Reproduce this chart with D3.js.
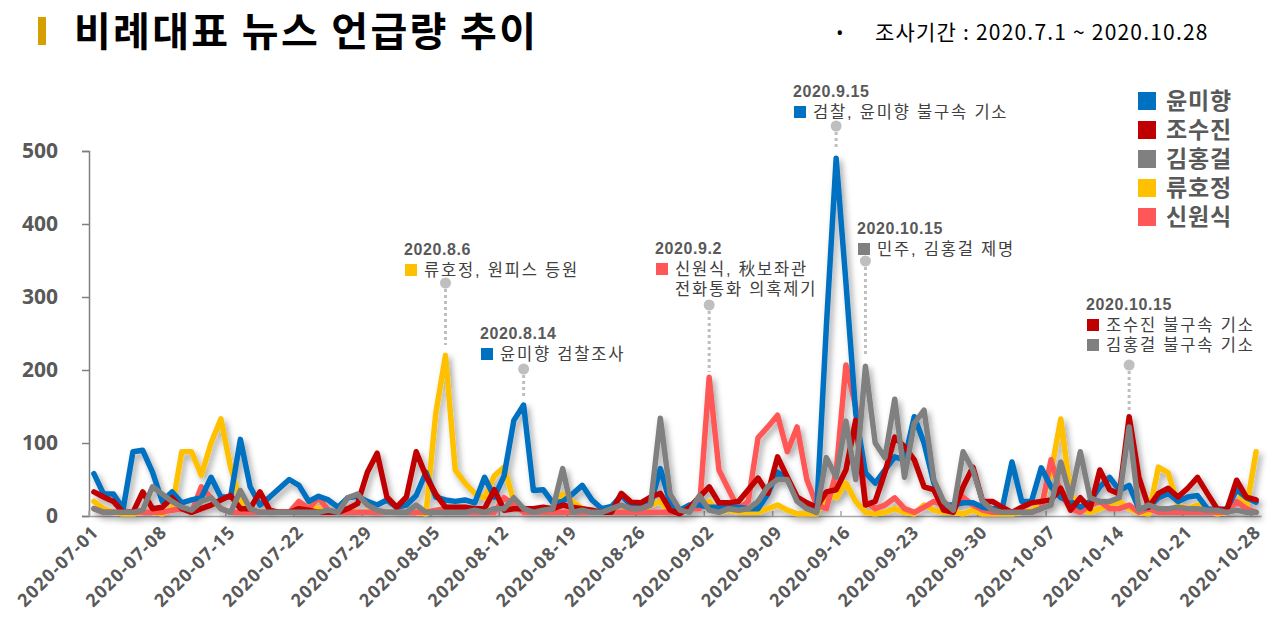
<!DOCTYPE html>
<html><head><meta charset="utf-8">
<script src="https://cdn.jsdelivr.net/npm/d3@7"></script>
<style>
body{margin:0;background:#fff;}
svg{display:block;font-family:"Open Sans","Noto Sans CJK KR",sans-serif;}
</style></head>
<body>
<svg id="chart" width="1280" height="631"></svg>
<script>
const seriesNames = ["윤미향","조수진","김홍걸","류호정","신원식"];
const seriesColors = ["#0070C0","#C00000","#808080","#FFC000","#FF5757"];
const yTicks = [0,100,200,300,400,500];

const yoon = [58,30,30,10,88,90,60,20,33,18,22,25,53,26,26,105,40,15,26,38,50,42,20,27,22,12,25,27,20,15,22,12,15,28,60,26,22,20,22,18,53,26,55,131,152,35,36,18,20,30,42,22,10,13,28,15,15,16,65,18,8,15,15,12,12,12,12,10,10,30,60,50,25,12,5,260,490,320,141,59,45,63,81,77,136,100,45,15,15,18,18,12,10,10,74,20,20,66,40,25,20,12,20,40,53,35,42,10,12,25,31,20,26,28,10,8,10,36,25,19];
const jo = [33,26,20,5,5,33,10,12,25,10,5,10,15,22,28,10,10,33,8,5,5,10,8,5,5,5,10,17,60,86,26,12,26,88,55,30,12,12,12,10,10,36,8,10,10,10,12,10,15,12,10,8,5,5,31,19,18,26,31,8,3,12,26,40,18,18,20,36,52,31,81,53,26,18,12,33,36,63,131,15,20,60,108,95,77,40,36,8,5,40,67,20,20,12,5,12,18,20,22,38,8,25,10,63,36,30,136,53,12,31,38,26,38,53,31,10,8,49,26,22];
const kim = [10,5,5,5,5,8,40,30,20,12,8,20,25,10,5,35,10,5,5,5,5,5,5,5,8,5,25,30,15,8,5,5,5,15,5,5,5,5,5,8,5,10,10,25,10,5,8,10,65,5,8,5,5,10,15,10,10,15,134,30,8,5,28,8,5,10,8,10,20,40,50,50,20,10,5,80,53,130,50,205,100,80,160,53,127,145,50,20,8,88,63,20,8,5,5,5,5,10,15,74,25,88,25,20,20,25,122,8,15,10,10,12,10,10,8,8,5,8,5,5];
const ryu = [20,10,5,3,3,5,5,3,10,88,88,56,100,133,67,20,10,5,5,5,5,10,15,10,5,5,8,5,5,5,5,5,5,5,3,140,220,63,45,31,25,55,67,20,5,5,5,10,30,20,10,5,5,5,5,10,5,15,20,5,5,15,15,20,5,8,5,5,5,10,15,8,3,3,3,30,25,45,20,5,3,5,10,5,3,15,8,5,5,3,8,3,3,3,3,5,8,15,60,133,30,10,5,10,15,20,10,5,3,67,59,15,10,15,10,3,5,40,10,88];
const shin = [10,5,5,5,5,5,5,5,8,10,5,40,25,10,5,5,5,5,5,5,5,20,10,25,8,5,5,5,5,5,5,5,5,5,5,8,10,8,5,5,5,5,25,15,5,5,5,5,5,5,5,5,5,5,5,5,5,5,5,5,5,10,10,190,63,36,10,20,107,122,138,88,122,50,15,10,60,207,150,20,10,15,25,10,5,12,20,15,8,26,15,8,5,5,5,5,5,10,77,30,10,5,15,20,10,10,15,5,10,5,5,5,5,5,5,5,5,20,10,5];

const seriesValues = [yoon, jo, kim, ryu, shin];
const fmt = d3.timeFormat("%Y-%m-%d");
const dates = d3.range(yoon.length).map(i => fmt(d3.timeDay.offset(new Date(2020,6,1), i)));
const xTickLabels = dates.filter((d,i) => i % 7 === 0);

const annotations = [
  {date:"2020.8.6", day:"2020-08-06", tx:404, ty:249, top:283, bottom:345, items:[{c:3,t:"류호정, 원피스 등원"}]},
  {date:"2020.8.14", day:"2020-08-14", tx:480, ty:333, top:369, bottom:396, items:[{c:0,t:"윤미향 검찰조사"}]},
  {date:"2020.9.2", day:"2020-09-02", tx:655, ty:248, top:305, bottom:372, items:[{c:4,t:"신원식, 秋보좌관"},{c:-1,t:"전화통화 의혹제기"}]},
  {date:"2020.9.15", day:"2020-09-15", tx:793, ty:91, top:126, bottom:150, items:[{c:0,t:"검찰, 윤미향 불구속 기소"}]},
  {date:"2020.10.15", day:"2020-09-18", tx:857, ty:228, top:261, bottom:355, items:[{c:2,t:"민주, 김홍걸 제명"}]},
  {date:"2020.10.15", day:"2020-10-15", tx:1086, ty:304, top:365, bottom:410, items:[{c:1,t:"조수진 불구속 기소"},{c:2,t:"김홍걸 불구속 기소"}]}
];

const svg = d3.select("#chart");
const defs = svg.append("defs");
const f = defs.append("filter").attr("id","shadow").attr("x","-10%").attr("y","-10%").attr("width","130%").attr("height","130%");
f.append("feDropShadow").attr("dx",3).attr("dy",4).attr("stdDeviation",3).attr("flood-color","#000").attr("flood-opacity",0.35);

const cjkTight = "'Liberation Sans','Noto Sans CJK KR',sans-serif";

// Title
svg.append("rect").attr("x",38).attr("y",17).attr("width",8).attr("height",28).attr("fill","#D4A000");
svg.append("text").attr("x",74).attr("y",46).attr("font-size",40).attr("font-weight","bold")
  .attr("letter-spacing",2.3)
  .attr("font-family","'Noto Sans CJK KR',sans-serif").attr("fill","#000").text("비례대표 뉴스 언급량 추이");
svg.append("text").attr("x",836).attr("y",40).attr("font-size",20).attr("fill","#000").text("•");
svg.append("text").attr("x",875).attr("y",40).attr("font-size",21).attr("fill","#000")
  .attr("letter-spacing",1.2)
  .attr("font-family","'Noto Sans CJK KR',sans-serif").text("조사기간 : 2020.7.1 ~ 2020.10.28");

const x = d3.scaleBand().domain(dates).range([89,1261]);
const y = d3.scaleLinear().domain([0,500]).range([516,151]);
const cx = d => x(d) + x.bandwidth()/2;

// Y axis
const yAxis = svg.append("g").attr("transform","translate(89,0)")
  .call(d3.axisLeft(y).tickValues(yTicks).tickSize(7).tickPadding(24));
yAxis.select(".domain").attr("stroke","#7f7f7f").attr("stroke-width",1.5);
yAxis.selectAll(".tick line").attr("stroke","#7f7f7f").attr("stroke-width",1.5);
yAxis.selectAll(".tick text").attr("font-size",21).attr("font-weight","bold").attr("fill","#595959")
  .attr("font-family","'Open Sans',sans-serif");

// X axis
const xAxis = svg.append("g").attr("transform","translate(0,516)")
  .call(d3.axisBottom(x).tickValues(xTickLabels).tickSize(0).tickPadding(0));
xAxis.select(".domain").attr("stroke","#a6a6a6").attr("stroke-width",1.5);
xAxis.selectAll(".tick text")
  .attr("font-size",18).attr("font-weight","bold").attr("fill","#595959")
  .attr("font-family","'Open Sans',sans-serif").attr("letter-spacing",1.2)
  .attr("text-anchor","end").attr("dy",0)
  .attr("transform","translate(6,17) rotate(-45)");
xAxis.selectAll(".tick").append("line")
  .attr("x1",-x.bandwidth()/2).attr("x2",-x.bandwidth()/2).attr("y1",0).attr("y2",-5)
  .attr("stroke","#a6a6a6").attr("stroke-width",1.5);

// Lines
const line = d3.line().x((v,i)=>cx(dates[i])).y(v=>y(v));
const drawOrder = [3,4,0,1,2];
const lg = svg.append("g").attr("filter","url(#shadow)");
drawOrder.forEach(si => {
  lg.append("path").datum(seriesValues[si]).attr("d",line)
    .attr("fill","none").attr("stroke",seriesColors[si]).attr("stroke-width",5.5)
    .attr("stroke-linejoin","round").attr("stroke-linecap","round");
});

// Legend
const leg = svg.append("g");
seriesNames.forEach((n,i) => {
  const yy = 101 + i*29;
  leg.append("rect").attr("x",1138).attr("y",yy-9).attr("width",18).attr("height",18).attr("fill",seriesColors[i]);
  leg.append("text").attr("x",1166).attr("y",yy+8).attr("font-size",23).attr("font-weight","bold")
    .attr("letter-spacing",0.8)
    .attr("font-family",cjkTight).attr("fill","#595959").text(n);
});

// Annotations
const ag = svg.append("g");
annotations.forEach(a => {
  const px = cx(a.day);
  ag.append("line").attr("x1",px).attr("x2",px).attr("y1",a.top).attr("y2",a.bottom)
    .attr("stroke","#bfbfbf").attr("stroke-width",3).attr("stroke-dasharray","3,3");
  ag.append("circle").attr("cx",px).attr("cy",a.top).attr("r",5.5).attr("fill","#bfbfbf");
  ag.append("text").attr("x",a.tx).attr("y",a.ty+6).attr("font-size",16).attr("font-weight","bold")
    .attr("letter-spacing",0.6)
    .attr("font-family",cjkTight).attr("fill","#595959").text(a.date);
  a.items.forEach((it,k) => {
    const yy = a.ty + 21 + k*20;
    if (it.c >= 0) ag.append("rect").attr("x",a.tx+1).attr("y",yy-6).attr("width",12).attr("height",12).attr("fill",seriesColors[it.c]);
    ag.append("text").attr("x",a.tx+20).attr("y",yy+6).attr("font-size",16.5).attr("letter-spacing",1.8)
      .attr("font-family",cjkTight).attr("fill","#404040").text(it.t);
  });
});
</script>
</body></html>
